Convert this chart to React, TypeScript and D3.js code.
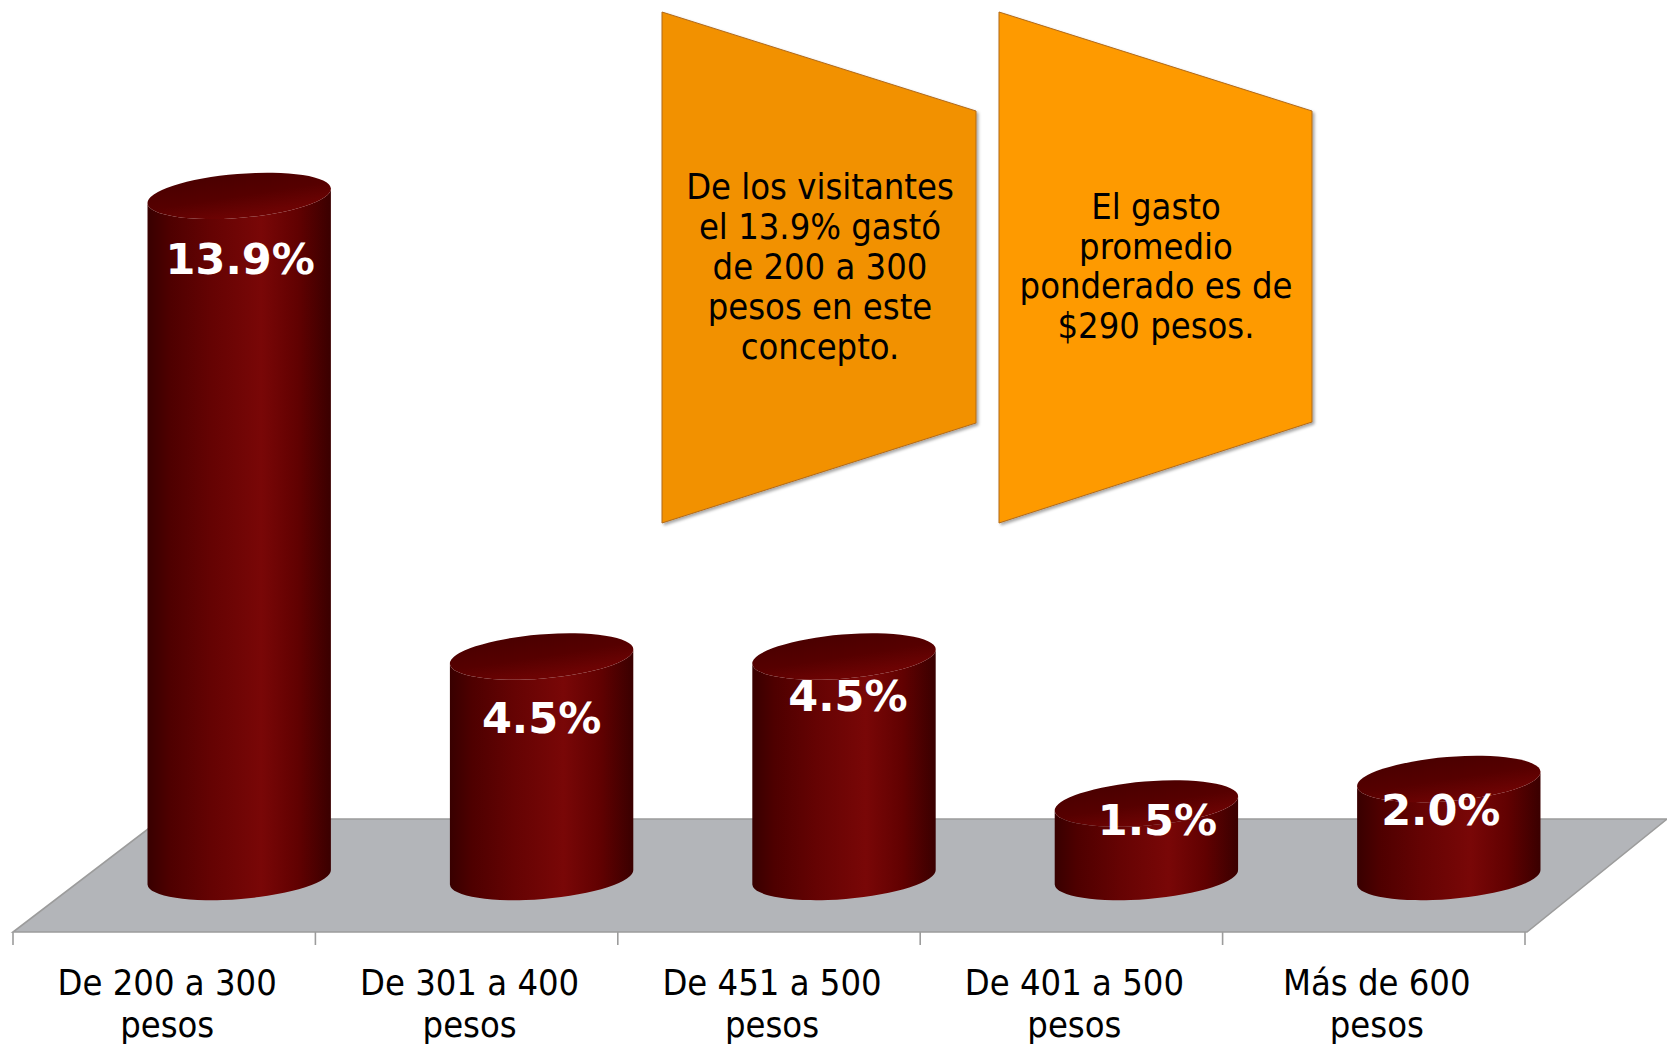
import React from "react";
import * as d3 from "d3";

const categories = [
  ["De 200 a 300", "pesos"],
  ["De 301 a 400", "pesos"],
  ["De 451 a 500", "pesos"],
  ["De 401 a 500", "pesos"],
  ["Más de 600", "pesos"],
];
const values = [13.9, 4.5, 4.5, 1.5, 2.0];
const valueLabels = ["13.9%", "4.5%", "4.5%", "1.5%", "2.0%"];
// manual label nudges (Excel-style hand-placed labels)
const labelDx = [1, 0, 4, 11, -8];
const labelDy = [78, 76, 54, 31, 46];

const note1 = ["De los visitantes", "el 13.9% gastó", "de 200 a 300", "pesos en este", "concepto."];
const note2 = ["El gasto", "promedio", "ponderado es de", "$290 pesos."];

const W = 1667;
const H = 1050;

const REG = "'DejaVu Sans Condensed', 'Liberation Sans', Arial, sans-serif";
const BOLD = "'DejaVu Sans', Verdana, sans-serif";

export default function App() {
  const frontY = 932;
  const backY = 819;
  const depth = 148; // horizontal shift from front edge to back edge
  const x = d3
    .scaleBand<number>()
    .domain(d3.range(categories.length))
    .range([13, 1525])
    .padding(0);
  const baseY = 877;
  const y = d3.scaleLinear().domain([0, 16]).range([baseY, baseY - 16 * 49]);

  const rx = 92;
  const ry = 22;
  const tilt = -4.7;
  const t = (tilt * Math.PI) / 180;
  const ox = rx * Math.cos(t);
  const oy = rx * Math.sin(t);

  const floorPts = [
    [x.range()[0], frontY],
    [x.range()[1] + 2, frontY],
    [x.range()[1] + 142, backY],
    [x.range()[0] + depth, backY],
  ];

  const ticks = d3.range(categories.length + 1).map((i) => x.range()[0] + i * x.bandwidth());

  return (
    <svg
      width={W}
      height={H}
      viewBox={`0 0 ${W} ${H}`}
      style={{ position: "absolute", left: 0, top: 0, display: "block" }}
    >
      <defs>
        <linearGradient id="side" x1="0" x2="1" y1="0" y2="0">
          <stop offset="0" stopColor="#380000" />
          <stop offset="0.12" stopColor="#4e0000" />
          <stop offset="0.35" stopColor="#650303" />
          <stop offset="0.62" stopColor="#790707" />
          <stop offset="0.82" stopColor="#610101" />
          <stop offset="1" stopColor="#3a0000" />
        </linearGradient>
        <linearGradient id="top" x1="0" x2="0.3" y1="0" y2="1">
          <stop offset="0" stopColor="#480000" />
          <stop offset="0.6" stopColor="#560000" />
          <stop offset="1" stopColor="#6c0303" />
        </linearGradient>
        <filter id="shadow" x="-5%" y="-5%" width="115%" height="115%">
          <feDropShadow dx="2" dy="2" stdDeviation="1.5" floodColor="#000" floodOpacity="0.35" />
        </filter>
      </defs>
      <rect width={W} height={H} fill="#ffffff" />

      {/* floor */}
      <polygon
        points={floorPts.map((p) => p.join(",")).join(" ")}
        fill="#b3b5b9"
        stroke="#9c9c9c"
        strokeWidth={1.6}
      />
      {ticks.map((tx, i) => (
        <line key={i} x1={tx} x2={tx} y1={frontY} y2={frontY + 13} stroke="#9c9c9c" strokeWidth={1.6} />
      ))}

      {/* cylinders */}
      {values.map((v, i) => {
        const cx = (x(i) as number) + x.bandwidth() / 2 + depth / 2 + 1;
        const topY = y(v);
        const lt = [cx - ox, topY - oy];
        const rt = [cx + ox, topY + oy];
        const lb = [cx - ox, baseY - oy];
        const rb = [cx + ox, baseY + oy];
        const side = `M${lt[0]},${lt[1]} L${lb[0]},${lb[1]} A${rx},${ry} ${tilt} 0 0 ${rb[0]},${rb[1]} L${rt[0]},${rt[1]} A${rx},${ry} ${tilt} 0 1 ${lt[0]},${lt[1]} Z`;
        return (
          <g key={i}>
            <path d={side} fill="url(#side)" />
            <ellipse
              cx={cx}
              cy={topY}
              rx={rx}
              ry={ry}
              transform={`rotate(${tilt} ${cx} ${topY})`}
              fill="url(#top)"
            />
            <text
              x={cx + labelDx[i]}
              y={topY + labelDy[i]}
              textAnchor="middle"
              fill="#ffffff"
              fontFamily={BOLD}
              fontWeight="bold"
              fontSize={43}
            >
              {valueLabels[i]}
            </text>
          </g>
        );
      })}

      {/* category labels */}
      {categories.map((lines, i) => {
        const cx = (x(i) as number) + x.bandwidth() / 2 + 3;
        return (
          <text key={i} textAnchor="middle" fontFamily={REG} fontSize={36} fill="#000">
            {lines.map((l, j) => (
              <tspan key={j} x={cx} y={995 + j * 42}>
                {l}
              </tspan>
            ))}
          </text>
        );
      })}

      {/* callout boxes */}
      <g filter="url(#shadow)">
        <polygon
          points="662,12 976,111 976,423 662,523"
          fill="#f29100"
          stroke="#b06a1c"
          strokeWidth={1}
        />
        <polygon
          points="999,12 1312,111 1312,422 999,523"
          fill="#fe9a00"
          stroke="#b06a1c"
          strokeWidth={1}
        />
      </g>
      <text textAnchor="middle" fontFamily={REG} fontSize={36} fill="#000">
        {note1.map((l, j) => (
          <tspan key={j} x={820} y={199 + j * 40}>
            {l}
          </tspan>
        ))}
      </text>
      <text textAnchor="middle" fontFamily={REG} fontSize={36} fill="#000">
        {note2.map((l, j) => (
          <tspan key={j} x={1156} y={219 + j * 39.7}>
            {l}
          </tspan>
        ))}
      </text>
    </svg>
  );
}
